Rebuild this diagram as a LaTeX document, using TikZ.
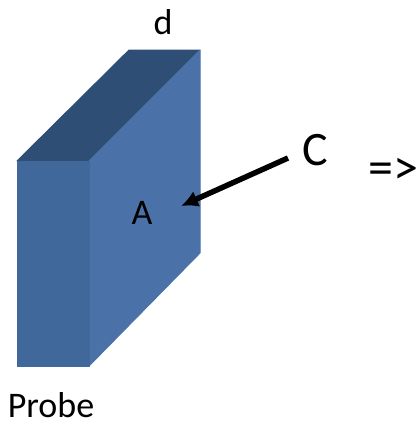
\documentclass[tikz,border=0pt]{standalone}
\usepackage{fontspec}
\setmainfont{Carlito}
\usepackage{xcolor}
\usetikzlibrary{arrows.meta,positioning,calc}
\definecolor{probefront}{HTML}{41689A}
\definecolor{probeside}{HTML}{4A72A8}
\definecolor{probetop}{HTML}{2F4E75}
\begin{document}
\begin{tikzpicture}[x=1pt, y=-1pt, face/.style={line join=round, line width=1pt},
    lbl/.style={inner sep=0pt, text=black}]
  \useasboundingbox (0,0) rectangle (417,424);
  % probe faces
  \draw[face, fill=probetop, draw=probetop] (17,161) -- (129,50) -- (200,50) -- (89,161) -- cycle;
  \draw[face, fill=probeside, draw=probeside] (89,161) -- (200,50) -- (200,253) -- (89,366) -- cycle;
  \draw[face, fill=probefront, draw=probefront] (17,161) -- (89,161) -- (89,366) -- (17,366) -- cycle;

  \node[lbl, font=\fontsize{36}{38}\selectfont] (depth) at (163,22) {d};
  \node[lbl, font=\fontsize{36}{38}\selectfont] (area) at (142,213) {A};
  \node[lbl, font=\fontsize{48}{50}\selectfont] (contact) at (315,150) {C};
  \node[lbl, font=\fontsize{50}{54}\selectfont] (implies) at (393.5,171) {=>};
  \node[lbl, font=\fontsize{36}{38}\selectfont] (probe) at (51,405) {Probe};

  \coordinate (target) at (181,206);
  \draw[-{Latex[length=17pt, width=17pt]}, line width=5.5pt, black] (288,158) -- (target);
\end{tikzpicture}
\end{document}
